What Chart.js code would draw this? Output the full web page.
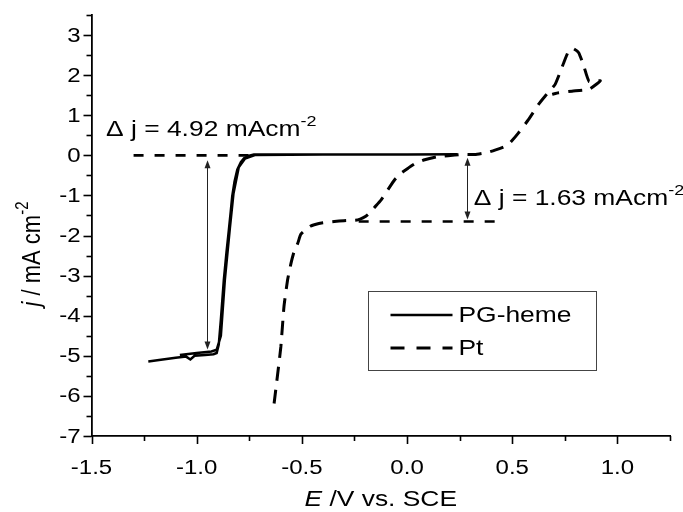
<!DOCTYPE html>
<html>
<head>
<meta charset="utf-8">
<script src="https://cdn.jsdelivr.net/npm/chart.js@4.4.1/dist/chart.umd.min.js"></script>
<style>
  html, body { margin: 0; padding: 0; background: #fff; }
  #wrap { width: 683px; height: 512px; }
</style>
</head>
<body>
<div id="wrap"><canvas id="cv" width="683" height="512"></canvas></div>
<script>
// ── Data: potential E (V vs. SCE) and current density j (mA cm^-2) ──
const pgE = [-1.23, -1.17, -1.10, -1.05, -1.03, -1.01, -0.96, -0.92, -0.905, -0.895, -0.885,
             -0.871, -0.858, -0.847, -0.838, -0.831, -0.82, -0.807, -0.79, -0.775, -0.75, -0.728,
             -0.5, -0.2, 0.0, 0.24,
             0.0, -0.4, -0.72, -0.77, -0.80, -0.825, -0.842, -0.866, -0.885, -0.905, -0.93, -1.0, -1.08];
const pgJ = [-5.14, -5.10, -5.05, -5.02, -5.09, -5.0, -4.98, -4.96, -4.93, -4.72, -4.1,
             -3.11, -2.4, -1.86, -1.4, -1.02, -0.65, -0.36, -0.17, -0.07, -0.01, 0.02,
             0.02, 0.02, 0.02, 0.03,
             0.02, 0.02, 0.01, -0.08, -0.3, -0.95, -1.8, -3.1, -4.5, -4.85, -4.89, -4.93, -4.98];

const ptE = [-0.632, -0.60, -0.585, -0.568, -0.552, -0.537, -0.52, -0.505, -0.48, -0.46, -0.441,
             -0.40, -0.346, -0.30, -0.26, -0.234, -0.21, -0.186, -0.155, -0.123, -0.09, -0.059,
             -0.03, 0.005, 0.04, 0.084, 0.14, 0.195, 0.259, 0.322, 0.38, 0.418, 0.455, 0.482,
             0.53, 0.577, 0.625, 0.657, 0.704, 0.745, 0.768, 0.79, 0.816, 0.84, 0.866, 0.919,
             0.866, 0.784, 0.72, 0.69];
const ptJ = [-6.19, -4.78, -3.77, -3.11, -2.7, -2.4, -2.2, -1.97, -1.85, -1.77, -1.73,
             -1.68, -1.65, -1.63, -1.62, -1.61, -1.56, -1.48, -1.3, -1.11, -0.85, -0.61,
             -0.45, -0.32, -0.2, -0.11, -0.04, -0.01, 0.02, 0.02, 0.07, 0.13, 0.2, 0.27,
             0.56, 0.89, 1.27, 1.48, 1.77, 2.31, 2.6, 2.66, 2.56, 2.23, 1.84, 1.86,
             1.65, 1.6, 1.56, 1.52];

// dashed guide lines for the two limiting currents
const guideHighE = [-1.30, -0.73];
const guideHighJ = [0, 0];
const guideLowE = [-0.23, 0.434];
const guideLowJ = [-1.65, -1.65];

// Δj arrows: E position, upper and lower current
const arrowE = [-0.953, 0.283];
const arrowTopJ = [-0.12, -0.06];
const arrowBottomJ = [-4.84, -1.6];
const deltaValues = ['4.92', '1.63'];

const seriesNames = ['PG-heme', 'Pt'];
const xTickValues = [-1.5, -1.0, -0.5, 0.0, 0.5, 1.0];
const yTickValues = [-7, -6, -5, -4, -3, -2, -1, 0, 1, 2, 3];

const pts = (xs, ys) => xs.map((x, i) => ({ x, y: ys[i] }));

const FONT = "'Liberation Sans', Arial, sans-serif";
const SX = 1.2;           // text is drawn slightly widened
const PT_DASH = [14, 9];
const GUIDE_DASH = [10, 11];

function wideText(ctx, txt, x, y, align) {
    const w = ctx.measureText(txt).width * SX;
    let x0 = x;
    if (align === 'center') x0 = x - w / 2;
    else if (align === 'right') x0 = x - w;
    ctx.save();
    ctx.translate(x0, y);
    ctx.scale(SX, 1);
    ctx.textAlign = 'left';
    ctx.fillText(txt, 0, 0);
    ctx.restore();
    return w;
}

function drawArrowHead(ctx, x, y, dir) {
    // dir = -1 points up, 1 points down
    ctx.beginPath();
    ctx.moveTo(x, y);
    ctx.lineTo(x - 3, y - dir * 8);
    ctx.lineTo(x + 3, y - dir * 8);
    ctx.closePath();
    ctx.fill();
}

const decor = {
    id: 'decor',
    afterDraw(chart) {
        const { ctx, scales: { x, y } } = chart;
        ctx.save();
        ctx.fillStyle = '#000';
        ctx.strokeStyle = '#000';

        // ── tick marks ──
        ctx.lineWidth = 1.6;
        const bottom = y.getPixelForValue(-7);
        const left = x.getPixelForValue(-1.5);
        for (let i = 0; i <= 11; i++) {
            const v = -1.5 + i * 0.25;
            const px = Math.round(x.getPixelForValue(v)) + 0.5;
            const len = i % 2 === 0 ? 8 : 5;
            ctx.beginPath();
            ctx.moveTo(px, bottom);
            ctx.lineTo(px, bottom + len);
            ctx.stroke();
        }
        for (let i = 0; i <= 21; i++) {
            const v = -7 + i * 0.5;
            const py = Math.round(y.getPixelForValue(v)) + 0.5;
            const len = i % 2 === 0 ? 8 : 5;
            ctx.beginPath();
            ctx.moveTo(left, py);
            ctx.lineTo(left - len, py);
            ctx.stroke();
        }

        // ── tick labels ──
        ctx.font = `20px ${FONT}`;
        ctx.textBaseline = 'middle';
        xTickValues.forEach(v => {
            wideText(ctx, v.toFixed(1), x.getPixelForValue(v), 468, 'center');
        });
        yTickValues.forEach(v => {
            wideText(ctx, String(v), left - 11, y.getPixelForValue(v) + 1, 'right');
        });

        // ── axis titles ──
        ctx.textBaseline = 'alphabetic';
        ctx.font = `italic 22px ${FONT}`;
        const t1 = 'E';
        const t2 = ' /V vs. SCE';
        const w1 = ctx.measureText(t1).width * SX;
        ctx.font = `22px ${FONT}`;
        const w2 = ctx.measureText(t2).width * SX;
        const cx = (x.left + x.right) / 2;
        let sx = cx - (w1 + w2) / 2;
        ctx.font = `italic 22px ${FONT}`;
        sx += wideText(ctx, t1, sx, 506, 'left');
        ctx.font = `22px ${FONT}`;
        wideText(ctx, t2, sx, 506, 'left');

        // y title, rotated
        ctx.save();
        ctx.translate(40, 254);
        ctx.rotate(-Math.PI / 2);
        ctx.scale(1, SX);
        const parts = [['italic 22px', 'j', 0], ['22px', ' / mA cm', 0], ['15px', '-2', -10]];
        let total = 0;
        parts.forEach(p => { ctx.font = `${p[0]} ${FONT}`; total += ctx.measureText(p[1]).width; });
        let ox = -total / 2;
        parts.forEach(p => {
            ctx.font = `${p[0]} ${FONT}`;
            ctx.fillText(p[1], ox, p[2]);
            ox += ctx.measureText(p[1]).width;
        });
        ctx.restore();

        // ── Δj arrows ──
        ctx.strokeStyle = '#222';
        ctx.fillStyle = '#222';
        ctx.lineWidth = 1;
        arrowE.forEach((e, i) => {
            const px = Math.round(x.getPixelForValue(e)) + 0.5;
            const pTop = y.getPixelForValue(arrowTopJ[i]);
            const pBot = y.getPixelForValue(arrowBottomJ[i]);
            ctx.beginPath();
            ctx.moveTo(px, pTop + 4);
            ctx.lineTo(px, pBot - 4);
            ctx.stroke();
            drawArrowHead(ctx, px, pTop, -1);
            drawArrowHead(ctx, px, pBot, 1);
        });

        // ── Δj labels ──
        ctx.fillStyle = '#000';
        const labelAt = [[-1.431, 0.47], [0.317, -1.23]];
        deltaValues.forEach((val, i) => {
            let lx = x.getPixelForValue(labelAt[i][0]);
            const ly = y.getPixelForValue(labelAt[i][1]);
            ctx.font = `22px ${FONT}`;
            lx += wideText(ctx, `\u0394 j = ${val} mAcm`, lx, ly, 'left');
            ctx.font = `15px ${FONT}`;
            wideText(ctx, '-2', lx, ly - 10, 'left');
        });

        // ── legend ──
        const bx = 368.5, by = 291.5, bw = 228, bh = 79;
        const legendDash = [[], [14, 12]];
        ctx.strokeStyle = '#444';
        ctx.lineWidth = 1;
        ctx.strokeRect(bx, by, bw, bh);
        ctx.font = `22px ${FONT}`;
        ctx.textBaseline = 'middle';
        chart.data.datasets.slice(0, 2).forEach((ds, i) => {
            const ry = by + 23.5 + i * 33;
            ctx.strokeStyle = ds.borderColor;
            ctx.lineWidth = ds.borderWidth;
            ctx.setLineDash(legendDash[i]);
            ctx.beginPath();
            ctx.moveTo(bx + 22, ry);
            ctx.lineTo(bx + 84, ry);
            ctx.stroke();
            ctx.setLineDash([]);
            ctx.fillStyle = '#000';
            wideText(ctx, ds.label, bx + 90, ry + 1, 'left');
        });
        ctx.restore();
    }
};

new Chart(document.getElementById('cv'), {
    type: 'scatter',
    data: {
        datasets: [
            {
                label: seriesNames[0],
                data: pts(pgE, pgJ),
                showLine: true,
                borderColor: '#000',
                borderWidth: 2.5,
                pointRadius: 0,
                tension: 0
            },
            {
                label: seriesNames[1],
                data: pts(ptE, ptJ),
                showLine: true,
                borderColor: '#000',
                borderWidth: 3,
                borderDash: PT_DASH,
                pointRadius: 0,
                tension: 0.15
            },
            {
                label: 'guide-high',
                data: pts(guideHighE, guideHighJ),
                showLine: true,
                borderColor: '#000',
                borderWidth: 2.7,
                borderDash: GUIDE_DASH,
                pointRadius: 0
            },
            {
                label: 'guide-low',
                data: pts(guideLowE, guideLowJ),
                showLine: true,
                borderColor: '#000',
                borderWidth: 2.7,
                borderDash: GUIDE_DASH,
                pointRadius: 0
            }
        ]
    },
    options: {
        responsive: false,
        animation: false,
        events: [],
        layout: { padding: { left: 0, right: 13, top: 15, bottom: 0 } },
        plugins: {
            legend: { display: false },
            tooltip: { enabled: false }
        },
        scales: {
            x: {
                type: 'linear',
                min: -1.5,
                max: 1.25,
                grid: { display: false },
                border: { display: true, color: '#000', width: 1.8 },
                ticks: { display: false },
                afterFit: s => { s.height = 76; }
            },
            y: {
                type: 'linear',
                min: -7,
                max: 3.5,
                grid: { display: false },
                border: { display: true, color: '#000', width: 1.8 },
                ticks: { display: false },
                afterFit: s => { s.width = 91.5; }
            }
        }
    },
    plugins: [decor]
});
</script>
</body>
</html>
